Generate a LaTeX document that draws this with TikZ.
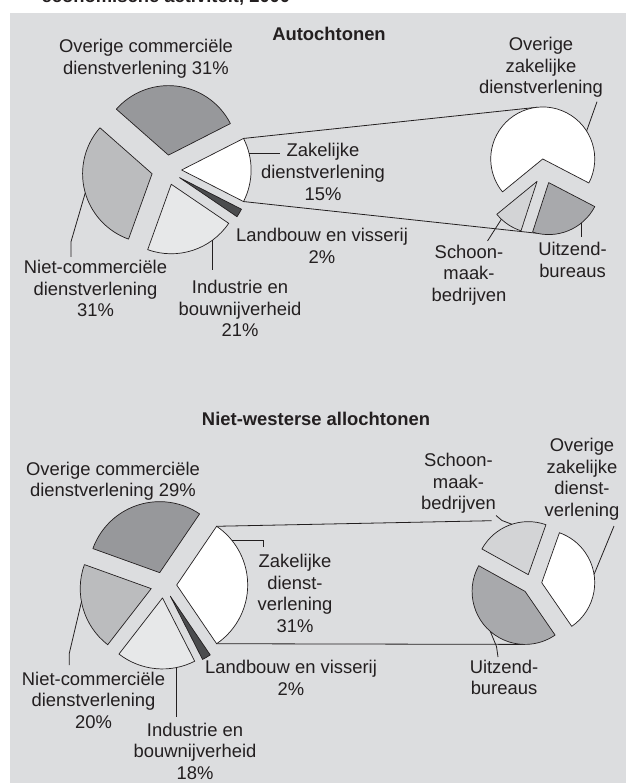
\documentclass[tikz,border=0pt]{standalone}
\usepackage{fontspec}
\setmainfont{Liberation Sans}
\usetikzlibrary{calc}
\definecolor{panelgray}{HTML}{DCDDDF}
\definecolor{dkgray}{HTML}{97989B}
\definecolor{mdgray}{HTML}{BBBCBE}
\definecolor{ltgray}{HTML}{E7E8E9}
\definecolor{blackish}{HTML}{4B4C4E}
\definecolor{schoongray}{HTML}{D3D4D6}
\definecolor{uitzgray}{HTML}{A8A9AC}
\definecolor{ink}{HTML}{231F20}
\newcommand\myslice[6]{% center, r, d, a1, a2, fill
  \filldraw[pieslice, fill=#6] ($(#1)+({(#4+#5)/2}:#3)$) -- ++(#4:#2)
    arc[start angle=#4, end angle=#5, radius=#2] -- cycle;}
\begin{document}
\begin{tikzpicture}[x=1pt, y=1pt,
  pieslice/.style={draw=ink, line width=0.7pt, line join=round},
  conn/.style={draw=ink, line width=0.8pt},
  leader/.style={draw=ink, line width=0.8pt},
  lbl/.style={anchor=base, align=center, inner sep=0pt, text=ink,
    font=\fontsize{18.4}{21.6}\selectfont},
  ttl/.style={anchor=base, inner sep=0pt, text=ink,
    font=\fontsize{18.4}{21.6}\selectfont\bfseries}]
\useasboundingbox (0,0) rectangle (626,-783);
\clip (0,0) rectangle (626,-783);
\node[ttl, anchor=base west] (cut) at (41.5,-3) {economische activiteit, 2000};
\fill[panelgray] (10,-12.7) rectangle (626,-783);

% ---------------- Autochtonen ----------------
\node[ttl] (tA) at (329,-41) {Autochtonen};
\coordinate (A) at (166.6,-170);
\coordinate (B) at (544,-171.2);
\coordinate (Azt) at ($(A)+(0:15)+(27:69.5)$);
\coordinate (Azb) at ($(A)+(0:15)+(-27:69.5)$);
\coordinate (Bwt) at ($(B)+(95.9:12.3)+(96:52)$);
\coordinate (But) at ($(B)+(292.25:12.3)+(257:52)$);
\draw[conn] (Azt) -- (Bwt);
\draw[conn] (Azb) -- (But);

\myslice{A}{69.5}{15}{-27}{27}{white}
\myslice{A}{69.5}{15}{27}{138.6}{dkgray}
\myslice{A}{69.5}{15}{138.6}{250.2}{mdgray}
\myslice{A}{69.5}{15}{250.2}{325.8}{ltgray}
\myslice{A}{69.5}{15}{325.8}{333}{blackish}

\myslice{B}{52}{12.3}{-27.5}{219.3}{white}
\myslice{B}{52}{12.3}{219.3}{252}{schoongray}
\myslice{B}{52}{12.3}{252}{332.5}{uitzgray}

% multi-line labels: base = baseline of the last line
\node[lbl] (Aov) at (146,-74.1) {Overige commerciële\\dienstverlening 31\%};
\node[lbl] (Azk) at (323,-200.2) {Zakelijke\\dienstverlening\\15\%};
\node[lbl] (Ald) at (322,-263.1) {Landbouw en visserij\\2\%};
\node[lbl] (Ant) at (95.5,-316.7) {Niet-commerciële\\dienstverlening\\31\%};
\node[lbl] (Ain) at (240,-336.7) {Industrie en\\bouwnijverheid\\21\%};
\node[lbl] (Bov) at (541,-93.7) {Overige\\zakelijke\\dienstverlening};
\node[lbl] (Bsc) at (469,-301.5) {Schoon-\\maak-\\bedrijven};
\node[lbl] (Buz) at (572.5,-277.6) {Uitzend-\\bureaus};

\coordinate (Azk1) at (249.1,-153.3);
\coordinate (Azk2) at (279.5,-153.3);
\draw[leader] (Azk1) -- (Azk2);
\coordinate (Ant1) at ($(A)+(194.4:15)+(196:69.5)$);
\coordinate (Ant2) at (71,-241.7);
\coordinate (Ant3) at (71,-257);
\draw[leader] (Ant1) -- (Ant2) -- (Ant3);
\coordinate (Ain1) at (212.3,-240.3);
\coordinate (Ain2) at (212.3,-270);
\draw[leader] (Ain1) -- (Ain2);
\coordinate (Bov1) at ($(B)+(95.9:12.3)+(32.5:52)$);
\coordinate (Bov2) at (597,-101.7);
\draw[leader] (Bov1) -- (Bov2);
\coordinate (Bsc1) at ($(B)+(235.65:12.3)+(226.7:52)$);
\coordinate (Bsc2) at (487.5,-241);
\draw[leader] (Bsc1) -- (Bsc2);
\coordinate (Buz1) at (581,-223.4);
\coordinate (Buz2) at (581,-237.5);
\draw[leader] (Buz1) -- (Buz2);

% ---------------- Niet-westerse allochtonen ----------------
\node[ttl] (tC) at (316,-425.5) {Niet-westerse allochtonen};
\coordinate (C) at (163.7,-585);
\coordinate (D) at (531.8,-584);
\coordinate (Czt) at ($(C)+(0:13)+(55.8:71)$);
\coordinate (Czb) at ($(C)+(0:13)+(-55.8:71)$);
\coordinate (Dst) at (491.7,-520.7);
\coordinate (Dub) at ($(D)+(227.75:10)+(270:53)$);
\draw[conn] (Czt) -- (Dst);
\draw[conn] (Czb) -- (Dub);

\myslice{C}{71}{13}{-55.8}{55.8}{white}
\myslice{C}{71}{13}{55.8}{160.2}{dkgray}
\myslice{C}{71}{13}{160.2}{232.2}{mdgray}
\myslice{C}{71}{13}{232.2}{297}{ltgray}
\myslice{C}{71}{13}{297}{304.2}{blackish}

\myslice{D}{53}{10}{-55.5}{70.5}{white}
\myslice{D}{53}{10}{70.5}{151}{schoongray}
\myslice{D}{53}{10}{151}{304.5}{uitzgray}

\node[lbl] (Cov) at (113,-496.6) {Overige commerciële\\dienstverlening 29\%};
\node[lbl] (Czk) at (295,-632.3) {Zakelijke\\dienst-\\verlening\\31\%};
\node[lbl] (Cld) at (291,-695.1) {Landbouw en visserij\\2\%};
\node[lbl] (Cnt) at (93.5,-728.2) {Niet-commerciële\\dienstverlening\\20\%};
\node[lbl] (Cin) at (195,-779.5) {Industrie en\\bouwnijverheid\\18\%};
\node[lbl] (Dsc) at (458.5,-509.7) {Schoon-\\maak-\\bedrijven};
\node[lbl] (Dov) at (582,-516.5) {Overige\\zakelijke\\dienst-\\verlening};
\node[lbl] (Duz) at (504,-694.9) {Uitzend-\\bureaus};

\coordinate (Czk1) at (232.2,-540.7);
\coordinate (Czk2) at (263.3,-540.7);
\coordinate (Czk3) at (263.3,-547);
\draw[leader] (Czk1) -- (Czk2) -- (Czk3);
\coordinate (Cnt1) at ($(C)+(196.2:13)+(190.7:71)$);
\coordinate (Cnt2) at (69.3,-653.3);
\coordinate (Cnt3) at (69.3,-665);
\draw[leader] (Cnt1) -- (Cnt2) -- (Cnt3);
\coordinate (Cin1) at (176,-667.6);
\coordinate (Cin2) at (176,-716.5);
\draw[leader] (Cin1) -- (Cin2);
\coordinate (Dsc1) at (496,-515.5);
\coordinate (Dsc2) at (502,-520.5);
\coordinate (Dsc3) at ($(D)+(110.75:10)+(108:53)$);
\draw[leader] (Dsc1) -- (Dsc2) -- (Dsc3);
\coordinate (Dov1) at ($(D)+(7.5:10)+(9:53)$);
\coordinate (Dov2) at (614,-526);
\draw[leader] (Dov1) -- (Dov2);
\coordinate (Duz1) at ($(D)+(227.75:10)+(229:53)$);
\coordinate (Duz2) at (496.5,-646.5);
\coordinate (Duz3) at (498,-657);
\draw[leader] (Duz1) -- (Duz2) -- (Duz3);
\end{tikzpicture}
\end{document}
